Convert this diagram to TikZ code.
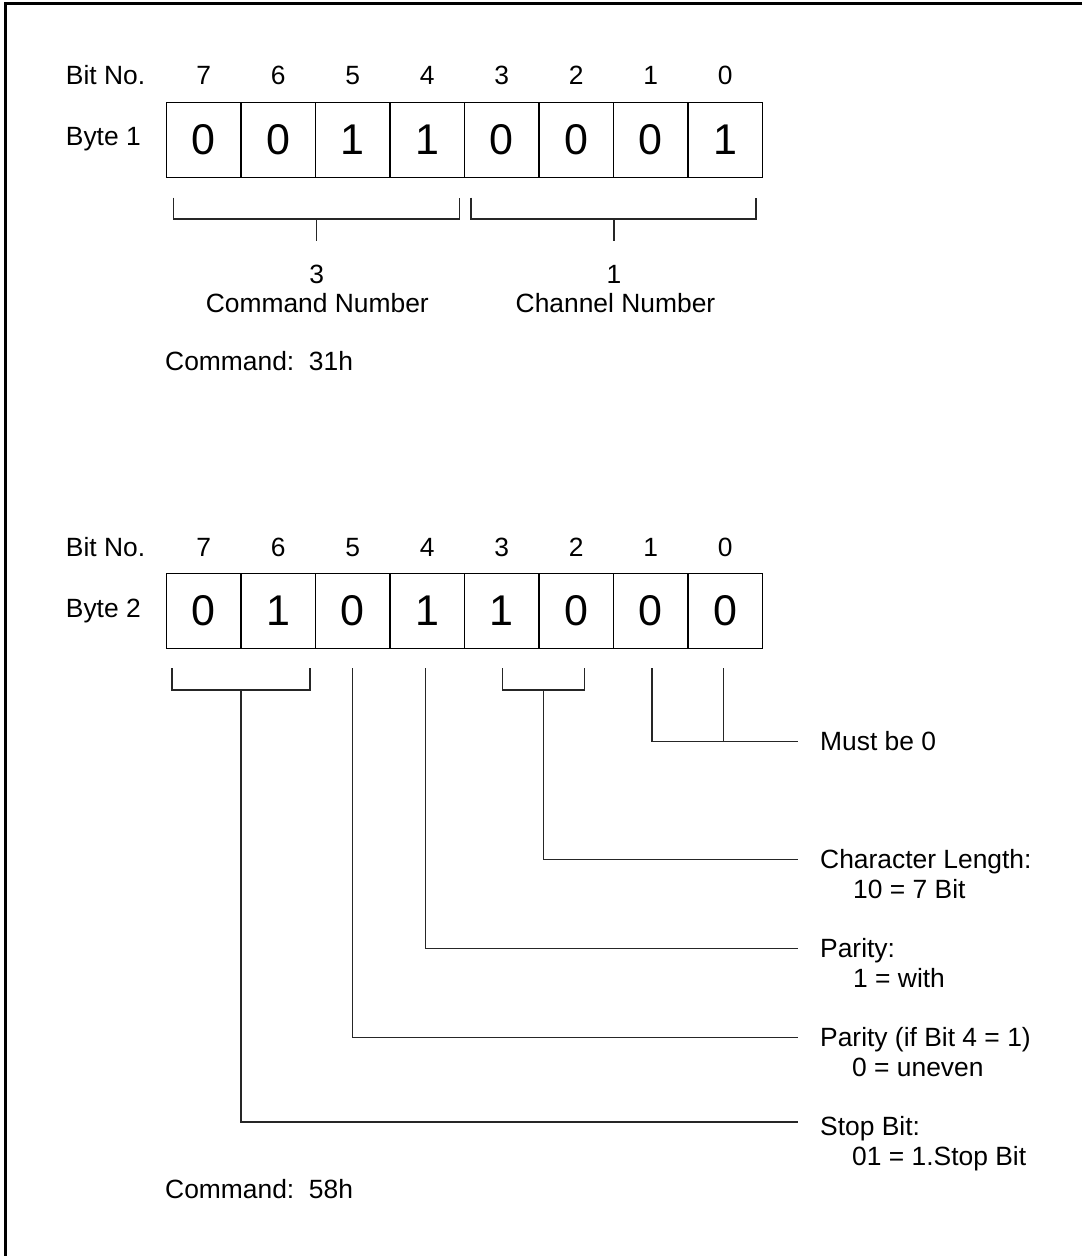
\documentclass[tikz,border=0pt]{standalone}
\usepackage{fontspec}
\setmainfont{Liberation Sans}
\begin{document}
\begin{tikzpicture}[x=1pt,y=-1pt,
  lbl/.style={font=\fontsize{26.4}{30}\selectfont, inner sep=0pt, anchor=base west},
  num/.style={font=\fontsize{26.4}{30}\selectfont, inner sep=0pt, anchor=base},
  cell/.style={draw, line width=1.5pt, minimum width=74.5pt, minimum height=75pt,
               inner sep=0pt, font=\fontsize{43}{50}\selectfont},
  conn/.style={line width=1.2pt, black!85},
  frame/.style={line width=3pt, black}]
\useasboundingbox (0,0) rectangle (1082,1256);

% frame (top and left edges)
\coordinate (ftl) at (5,3);
\coordinate (ftr) at (1082,3);
\coordinate (fbl) at (5,1256);
\draw[frame] (ftr) -- (ftl) -- (fbl);

% ---------------- Byte 1 ----------------
\node[lbl] (bitno1) at (65.7,84.3) {Bit No.};
\node[lbl] (byte1) at (65.7,145.7) {Byte 1};
\foreach \v [count=\i from 0] in {0,0,1,1,0,0,0,1} {
  \pgfmathtruncatemacro\b{7-\i}
  \node[cell] (a\b) at ({203.75+74.5*\i},140) {\v};
  \node[num] (na\b) at ({203.75+74.5*\i},84.3) {\b};
}

% brackets byte 1
\coordinate (b1l1) at (173.7,197.7);
\coordinate (b1l2) at (459.3,197.7);
\coordinate (b1ls) at (316.7,219);
\coordinate (b1le) at (316.7,240.7);
\coordinate (b1r1) at (471,197.7);
\coordinate (b1r2) at (756,197.7);
\coordinate (b1rs) at (614,219);
\coordinate (b1re) at (614,240.7);
\draw[conn] (b1l1) |- (b1ls) -| (b1l2);
\draw[conn] (b1ls) -- (b1le);
\draw[conn] (b1r1) |- (b1rs) -| (b1r2);
\draw[conn] (b1rs) -- (b1re);

\node[num] (three) at (316.7,283.3) {3};
\node[num] (cmdnum) at (317.3,312.3) {Command Number};
\node[num] (one) at (614,283.3) {1};
\node[num] (chnum) at (615.5,312.3) {Channel Number};
\node[lbl] (cmd1) at (165,370) {Command:\ \ 31h};

% ---------------- Byte 2 ----------------
\node[lbl] (bitno2) at (65.7,556) {Bit No.};
\node[lbl] (byte2) at (65.7,617) {Byte 2};
\foreach \v [count=\i from 0] in {0,1,0,1,1,0,0,0} {
  \pgfmathtruncatemacro\b{7-\i}
  \node[cell] (c\b) at ({203.75+74.5*\i},610.75) {\v};
  \node[num] (nc\b) at ({203.75+74.5*\i},556) {\b};
}

% right-hand labels
\node[lbl] (must) at (820,750.7) {Must be 0};
\node[lbl] (charlen) at (820,868.3) {Character Length:};
\node[lbl] (charlen2) at (853,898.5) {10 = 7 Bit};
\node[lbl] (par) at (820,957.3) {Parity:};
\node[lbl] (par2) at (853,987.3) {1 = with};
\node[lbl] (parif) at (820,1046.7) {Parity (if Bit 4 = 1)};
\node[lbl] (parif2) at (852,1076.7) {0 = uneven};
\node[lbl] (stop) at (820,1135.7) {Stop Bit:};
\node[lbl] (stop2) at (852,1165.7) {01 = 1.Stop Bit};
\node[lbl] (cmd2) at (165,1198) {Command:\ \ 58h};

% connector end points
\coordinate (e0) at (798,741.7);
\coordinate (e1) at (798,859.5);
\coordinate (e2) at (798,948.5);
\coordinate (e3) at (798,1037.5);
\coordinate (e4) at (798,1122);

% bits 7-6: stop bit
\coordinate (s7) at (172,668.3);
\coordinate (s6) at (310,668.3);
\coordinate (s76) at (241,690);
\draw[conn] (s7) |- (s76) -| (s6);
\draw[conn] (s76) |- (e4);
% bit 5: parity type
\coordinate (s5) at (352.7,668.3);
\draw[conn] (s5) |- (e3);
% bit 4: parity
\coordinate (s4) at (425.5,668.3);
\draw[conn] (s4) |- (e2);
% bits 3-2: character length
\coordinate (s3) at (502.3,668.3);
\coordinate (s2) at (584.3,668.3);
\coordinate (s32) at (543.3,690);
\draw[conn] (s3) |- (s32) -| (s2);
\draw[conn] (s32) |- (e1);
% bits 1,0: must be 0
\coordinate (s1) at (652,668.3);
\coordinate (s0) at (723.7,668.3);
\coordinate (j10) at (723.7,741.7);
\draw[conn] (s1) |- (e0);
\draw[conn] (s0) -- (j10);
\end{tikzpicture}
\end{document}
